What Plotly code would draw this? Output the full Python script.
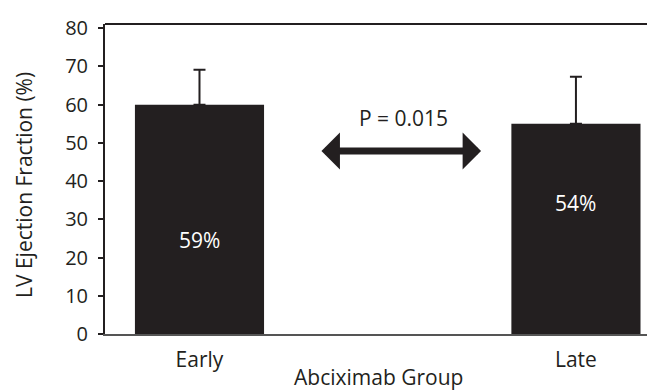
import plotly.graph_objects as go

categories = ["Early", "Late"]
ef_values = [60, 55]
ef_err_plus = [9.1, 12.3]
bar_labels = ["59%", "54%"]
bar_label_y = [24.7, 34.3]
p_text = "P = 0.015"
y_ticks = [0, 10, 20, 30, 40, 50, 60, 70, 80]

INK = "#231f20"
FONT = "Open Sans"

xpos = list(range(len(categories)))

fig = go.Figure()
fig.add_trace(go.Bar(
    x=xpos, y=ef_values, width=0.343,
    marker=dict(color=INK, line=dict(width=0)),
    error_y=dict(type="data", symmetric=False, array=ef_err_plus,
                 arrayminus=[0] * len(ef_values), color=INK, thickness=2, width=6),
    showlegend=False, hoverinfo="skip",
))

for xi, lab, ly in zip(xpos, bar_labels, bar_label_y):
    fig.add_annotation(x=xi, y=ly, text=lab, showarrow=False,
                       font=dict(family=FONT, size=21, color="white"))

# double-headed arrow between groups
fig.add_annotation(x=0.748, y=47.9, ax=0.32, ay=47.9, axref="x", ayref="y",
                   xref="x", yref="y", text="", showarrow=True,
                   arrowside="end+start", arrowhead=1, startarrowhead=1,
                   arrowwidth=7, arrowsize=0.88, startarrowsize=0.88, arrowcolor=INK)
fig.add_annotation(x=0.542, y=56.4, text=p_text, showarrow=False,
                   font=dict(family=FONT, size=21, color=INK))

# axis titles
fig.add_annotation(xref="paper", yref="paper", x=0, y=0.5, xanchor="center",
                   yanchor="middle", xshift=-81, yshift=-6, textangle=-90,
                   text="LV Ejection Fraction (%)", showarrow=False,
                   font=dict(family=FONT, size=21, color=INK))
fig.add_annotation(xref="paper", yref="paper", x=0.5, y=0, xanchor="center",
                   yanchor="middle", xshift=-2, yshift=-43,
                   text="Abciximab Group", showarrow=False,
                   font=dict(family=FONT, size=21, color=INK))

# top border line
fig.add_shape(type="line", xref="paper", yref="paper", x0=0, x1=1, y0=1, y1=1,
              line=dict(color=INK, width=2))

fig.update_layout(
    width=647, height=383,
    margin=dict(l=97, r=0, t=16, b=57, autoexpand=False),
    paper_bgcolor="white", plot_bgcolor="white",
    font=dict(family=FONT, size=20, color=INK),
    xaxis=dict(range=[-0.251, 1.21], tickvals=xpos, ticktext=categories,
               showline=True, linecolor="#555555", linewidth=1.5,
               showgrid=False, zeroline=False, ticks="", ticklabelstandoff=6,
               tickfont=dict(family=FONT, size=21, color=INK)),
    yaxis=dict(range=[0, 81.1], tickvals=y_ticks,
               showline=True, linecolor=INK, linewidth=2,
               ticks="outside", ticklen=5, tickwidth=1.5, tickcolor=INK,
               showgrid=False, zeroline=False, ticklabelstandoff=6,
               tickfont=dict(family=FONT, size=20, color=INK)),
)

fig.write_html("out.html")
